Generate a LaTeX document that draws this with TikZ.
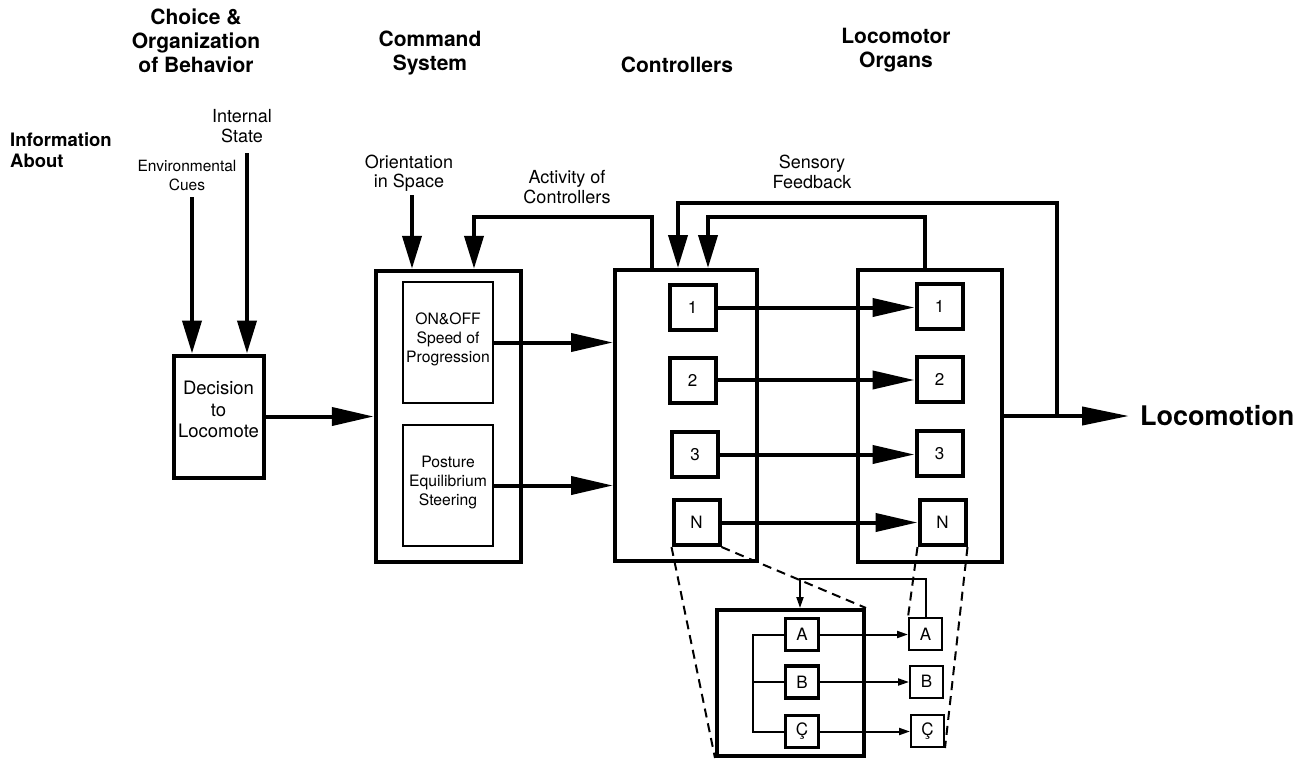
\documentclass[tikz,border=0pt]{standalone}
\usepackage{fontspec}
\setmainfont{TeX Gyre Heros}
\usetikzlibrary{arrows.meta}
\begin{document}
\begin{tikzpicture}[x=1pt,y=-1pt,
  line join=miter,
  box/.style={draw,line width=4pt,inner sep=0pt,align=center},
  thinbox/.style={draw,line width=2.5pt,inner sep=0pt,align=center},
  ibox/.style={draw,line width=3.5pt,inner sep=0pt,minimum width=33pt,minimum height=32pt,font=\fontsize{17}{17}\selectfont},
  rbox/.style={draw,line width=2pt,inner sep=0pt,minimum width=33pt,minimum height=32pt,font=\fontsize{17}{17}\selectfont},
  sbox/.style={draw,line width=4pt,inner sep=0pt,minimum width=46pt,minimum height=45pt,font=\fontsize{17}{17}\selectfont},
  conn/.style={line width=4pt},
  harrow/.style={line width=4pt,-{Triangle[length=42pt,width=18pt]}},
  varrow/.style={line width=4pt,-{Triangle[length=33pt,width=19pt]}},
  sarrow/.style={line width=2pt,-{Triangle[length=11pt,width=7pt]}},
  thinline/.style={line width=2pt},
  dsh/.style={line width=2pt,dash pattern=on 9pt off 6pt},
  head/.style={font=\bfseries\fontsize{21}{24}\selectfont,align=center,inner sep=0pt},
  lab/.style={font=\fontsize{18}{19.5}\selectfont,align=center,inner sep=0pt},
  slab/.style={font=\fontsize{15.5}{19}\selectfont,align=center,inner sep=0pt}
]
\fill[white] (0,0) rectangle (1315,760);
\useasboundingbox (0,0) rectangle (1315,760);

% headings
\node[head] (hchoice) at (196,41) {Choice \&\\Organization\\of Behavior};
\node[head] (hcmd) at (430,53) {Command\\System};
\node[head] (hctl) at (677,65) {Controllers};
\node[head] (hloc) at (896,50) {Locomotor\\Organs};
\node[head,font=\bfseries\fontsize{18.5}{21}\selectfont,align=left] (hinfo) at (61,150) {Information\\About};

% labels
\node[lab] (lint) at (242,126) {Internal\\State};
\node[slab] (lenv) at (187,175) {Environmental\\Cues};
\node[lab] (lori) at (409,173) {Orientation\\in Space};
\node[lab] (lact) at (567,187) {Activity of\\Controllers};
\node[lab] (lsen) at (812,172) {Sensory\\Feedback};

% decision box
\node[box,minimum width=90pt,minimum height=122pt,font=\fontsize{18.5}{21.5}\selectfont] (dec) at (218.5,416.5) {Decision\\to\\Locomote\\[-8pt]\mbox{}};

% command system
\node[box,line width=4.5pt,minimum width=145pt,minimum height=291pt] (cs) at (448.5,416.5) {};
\node[thinbox,minimum width=90pt,minimum height=121pt,font=\fontsize{15.7}{19}\selectfont] (csa) at (448,342.5) {ON\&OFF\\Speed of\\Progression\\[-10pt]\mbox{}};
\node[thinbox,minimum width=90pt,minimum height=121pt,font=\fontsize{15.7}{19}\selectfont] (csb) at (448,485.5) {Posture\\Equilibrium\\Steering\\[-10pt]\mbox{}};

% controllers
\node[box,minimum width=142pt,minimum height=291pt] (ctl) at (686,415.5) {};
\node[sbox] (c1) at (692.5,307.5) {1};
\node[sbox] (c2) at (692.5,380) {2};
\node[sbox] (c3) at (695,454.5) {3};
\node[sbox] (cN) at (696.5,522.5) {N};

% locomotor organs
\node[box,minimum width=144pt,minimum height=292pt] (lo) at (930,416) {};
\node[sbox] (l1) at (939.5,306) {1};
\node[sbox] (l2) at (939.5,379.5) {2};
\node[sbox] (l3) at (939.5,453.5) {3};
\node[sbox] (lN) at (942.5,522.5) {N};

% output
\node[font=\bfseries\fontsize{27}{27}\selectfont,anchor=west,inner sep=0pt] (lomo) at (1140,416) {Locomotion};

% inset
\node[box,minimum width=147pt,minimum height=146pt] (ins) at (790.5,683) {};
\node[ibox] (iA) at (802,634.5) {A};
\node[ibox] (iB) at (802,682) {B};
\node[ibox] (iC) at (802,731.5) {Ç};
\node[rbox] (rA) at (925.5,634) {A};
\node[rbox] (rB) at (926.5,681.5) {B};
\node[rbox] (rC) at (927.5,731) {Ç};

% coordinates
\coordinate (envtop) at (192,197);
\coordinate (inttop) at (247,153);
\coordinate (orit) at (412,195);
\coordinate (act1) at (652,217);
\coordinate (act2) at (474,217);
\coordinate (sf1) at (1057,203);
\coordinate (sf2) at (678,203);
\coordinate (sf3) at (925,217);
\coordinate (sf4) at (708,217);
\coordinate (br) at (753,680);
\coordinate (fb1) at (925,579);
\coordinate (fb2) at (800,579);

% input arrows
\draw[varrow] (envtop) -- (envtop |- dec.north);
\draw[varrow] (inttop) -- (inttop |- dec.north);
\draw[harrow] (dec.east) -- (dec.east -| cs.west);
\draw[varrow] (orit) -- (orit |- cs.north);
\draw[varrow] (act1 |- ctl.north) -- (act1) -- (act2) -- (act2 |- cs.north);
\draw[harrow] (csa.east) -- (csa.east -| ctl.west);
\draw[harrow] (csb.east) -- (csb.east -| ctl.west);

% controllers to organs
\draw[harrow] (c1.east) -- (c1.east -| l1.west);
\draw[harrow] (c2.east) -- (c2.east -| l2.west);
\draw[harrow] (c3.east) -- (c3.east -| l3.west);
\draw[harrow] (cN.east) -- (cN.east -| lN.west);

% feedback
\draw[varrow] (sf1 |- lo.east) -- (sf1) -- (sf2) -- (sf2 |- ctl.north);
\draw[varrow] (sf3 |- lo.north) -- (sf3) -- (sf4) -- (sf4 |- ctl.north);
\draw[line width=4pt,-{Triangle[length=47pt,width=18pt]}] (lo.east) -- ([xshift=-11pt]lomo.west);

% inset connections
\draw[thinline] (iA.west) -| (br |- iC.west) -- (iC.west);
\draw[thinline] (iB.west) -- (br |- iB.west);
\draw[sarrow] (iA.east) -- (iA.east -| rA.west);
\draw[sarrow] (iB.east) -- (iB.east -| rB.west);
\draw[sarrow] (iC.east) -- (iC.east -| rC.west);
\draw[sarrow] (rA.north) -- (rA.north |- fb1) -- (fb2) -- (fb2 |- ins.north);

% dashed zoom lines
\draw[dsh] (cN.south west) -- (ins.south west);
\draw[dsh] (cN.south east) -- (ins.north east);
\draw[dsh] (lN.south west) -- (rA.north west);
\draw[dsh] (lN.south east) -- (rC.south east);
\end{tikzpicture}
\end{document}
